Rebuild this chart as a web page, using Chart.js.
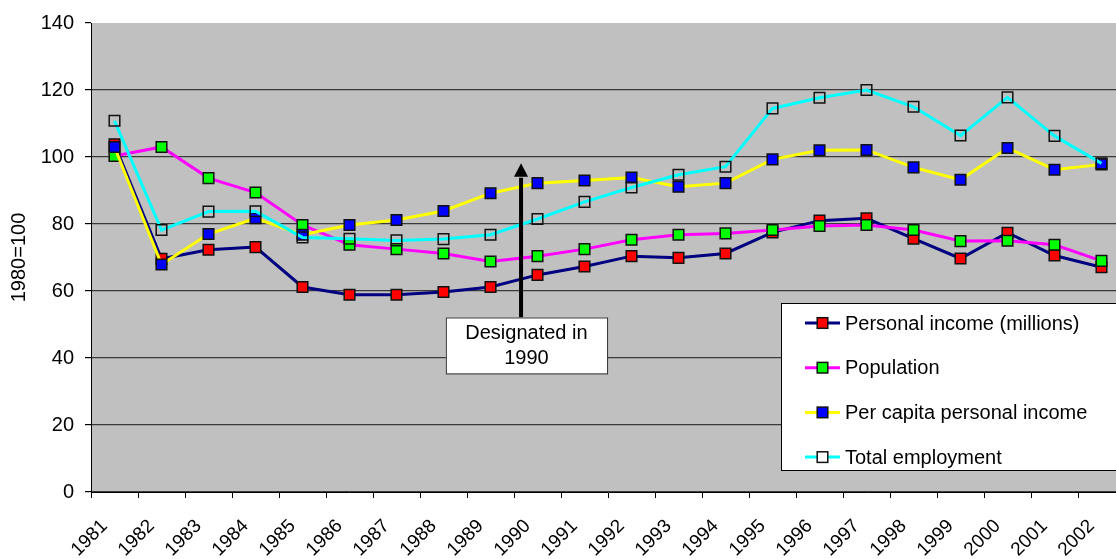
<!DOCTYPE html>
<html>
<head>
<meta charset="utf-8">
<script src="https://cdn.jsdelivr.net/npm/chart.js@4/dist/chart.umd.min.js"></script>
<style>
  html, body { margin: 0; padding: 0; background: #fff; overflow: hidden; }
  #wrap { position: relative; width: 1140px; height: 559px; }
</style>
</head>
<body>
<div id="wrap"><canvas id="chart"></canvas></div>
<script>
var years = ['1981','1982','1983','1984','1985','1986','1987','1988','1989','1990','1991',
             '1992','1993','1994','1995','1996','1997','1998','1999','2000','2001','2002'];
var personalIncome = [103.8, 69.6, 72.3, 73.1, 61.2, 58.9, 58.9, 59.7, 61.2, 64.8, 67.3,
                      70.4, 69.9, 71.2, 77.5, 81.0, 81.7, 75.6, 69.7, 77.4, 70.6, 67.1];
var population = [100.3, 103.0, 93.7, 89.4, 79.7, 73.8, 72.5, 71.2, 68.8, 70.4, 72.5,
                  75.3, 76.8, 77.2, 78.2, 79.4, 79.7, 78.2, 74.9, 75.0, 73.8, 69.0];
var perCapita = [103.0, 67.9, 77.0, 81.7, 76.8, 79.7, 81.2, 83.9, 89.2, 92.2, 93.0,
                 93.9, 91.1, 92.2, 99.3, 102.0, 102.1, 96.9, 93.2, 102.7, 96.2, 97.8];
var employment = [110.8, 78.2, 83.7, 83.8, 76.0, 75.6, 75.1, 75.5, 76.8, 81.5, 86.6,
                  90.9, 94.7, 97.1, 114.5, 117.7, 120.0, 115.0, 106.4, 117.8, 106.3, 98.1];
var seriesNames = ['Personal income (millions)', 'Population', 'Per capita personal income', 'Total employment'];
var noteLines = ['Designated in', '1990'];

Chart.defaults.font.family = '"Liberation Sans", Arial, sans-serif';
Chart.defaults.font.size = 20;
Chart.defaults.color = '#000';

function series(label, data, line, fill, order) {
  return {
    label: label, data: data, order: order,
    borderColor: line, borderWidth: 3, tension: 0,
    pointStyle: 'rect', pointRadius: 7.5, pointHoverRadius: 7.5,
    pointBackgroundColor: fill, pointBorderColor: '#111', pointBorderWidth: 1.5
  };
}

// grey plot background
var plotBg = {
  id: 'plotBg',
  beforeDraw: function(chart) {
    var a = chart.chartArea, ctx = chart.ctx;
    ctx.save();
    ctx.fillStyle = '#c0c0c0';
    ctx.fillRect(a.left, a.top, a.right - a.left, a.bottom - a.top);
    ctx.restore();
  }
};

// legend box and arrow note
var extras = {
  id: 'extras',
  afterDatasetsDraw: function(chart) {
    var ctx = chart.ctx, xs = chart.scales.x, ys = chart.scales.y;

    // arrow + note
    var ax = xs.getPixelForValue(8.65);
    var tip = ys.getPixelForValue(98.1), base = ys.getPixelForValue(94.1);
    var bx0 = xs.getPixelForValue(7.05), bx1 = xs.getPixelForValue(10.48);
    var by0 = ys.getPixelForValue(52.1), by1 = ys.getPixelForValue(35.4);
    ctx.save();
    ctx.strokeStyle = '#000';
    ctx.lineWidth = 4;
    ctx.beginPath();
    ctx.moveTo(ax, by0);
    ctx.lineTo(ax, base + 1);
    ctx.stroke();
    ctx.fillStyle = '#000';
    ctx.beginPath();
    ctx.moveTo(ax - 7, base);
    ctx.lineTo(ax + 7, base);
    ctx.lineTo(ax, tip);
    ctx.closePath();
    ctx.fill();
    ctx.fillStyle = '#fff';
    ctx.fillRect(bx0, by0, bx1 - bx0, by1 - by0);
    ctx.strokeStyle = '#333';
    ctx.lineWidth = 1;
    ctx.strokeRect(bx0 + 0.5, by0 + 0.5, bx1 - bx0, by1 - by0);
    ctx.fillStyle = '#000';
    ctx.font = '20px "Liberation Sans", Arial, sans-serif';
    ctx.textAlign = 'center';
    ctx.textBaseline = 'middle';
    var cx = (bx0 + bx1) / 2, cy = (by0 + by1) / 2;
    ctx.fillText(noteLines[0], cx, cy - 12);
    ctx.fillText(noteLines[1], cx, cy + 13);

    // legend
    var lx = 781, ly = 303, lw = chart.width - lx + 10, lh = 167;
    ctx.fillStyle = '#fff';
    ctx.fillRect(lx, ly, lw, lh);
    ctx.strokeStyle = '#000';
    ctx.lineWidth = 1;
    ctx.strokeRect(lx + 0.5, ly + 0.5, lw, lh);
    ctx.textAlign = 'left';
    chart.data.datasets.forEach(function(ds, i) {
      var y = ly + 20 + i * 44.7;
      ctx.strokeStyle = ds.borderColor;
      ctx.lineWidth = 3;
      ctx.beginPath();
      ctx.moveTo(lx + 24, y);
      ctx.lineTo(lx + 59, y);
      ctx.stroke();
      var s = 10.6;
      ctx.fillStyle = ds.pointBackgroundColor === 'rgba(0,0,0,0)' ? '#fff' : ds.pointBackgroundColor;
      ctx.fillRect(lx + 41.5 - s / 2, y - s / 2, s, s);
      ctx.strokeStyle = '#111';
      ctx.lineWidth = 1.5;
      ctx.strokeRect(lx + 41.5 - s / 2, y - s / 2, s, s);
      ctx.fillStyle = '#000';
      ctx.fillText(ds.label, lx + 64, y + 1);
    });
    ctx.restore();
  }
};

new Chart(document.getElementById('chart'), {
  type: 'line',
  data: {
    labels: years,
    datasets: [
      series(seriesNames[0], personalIncome, '#000080', '#ff0000', 3),
      series(seriesNames[1], population, '#ff00ff', '#00ff00', 2),
      series(seriesNames[2], perCapita, '#ffff00', '#0000ff', 1),
      series(seriesNames[3], employment, '#00ffff', 'rgba(0,0,0,0)', 0)
    ]
  },
  options: {
    responsive: true,
    maintainAspectRatio: false,
    animation: false,
    layout: { padding: { top: 22, right: 15, left: 0, bottom: 0 } },
    plugins: { legend: { display: false }, tooltip: { enabled: false } },
    scales: {
      x: {
        offset: true,
        grid: { offset: true, drawOnChartArea: false, drawTicks: true, tickLength: 6, tickColor: '#000' },
        border: { color: '#000', width: 1 },
        ticks: { autoSkip: false, minRotation: 45, maxRotation: 45, padding: 17, labelOffset: -10,
                 color: '#000', font: { size: 19 } },
        afterFit: function(s) { s.height = 67; }
      },
      y: {
        min: 0, max: 140,
        ticks: { stepSize: 20, padding: 11, color: '#000' },
        grid: {
          color: function(c) { return c.tick && c.tick.value === 140 ? 'rgba(0,0,0,0)' : '#3a3a3a'; },
          tickColor: '#000', tickLength: 6, lineWidth: 1.2
        },
        border: { color: '#000', width: 1 },
        title: { display: true, text: '1980=100', padding: { top: 7, bottom: 0 }, font: { size: 20 } },
        afterFit: function(s) { s.width = 91; }
      }
    }
  },
  plugins: [plotBg, extras]
});
</script>
</body>
</html>
